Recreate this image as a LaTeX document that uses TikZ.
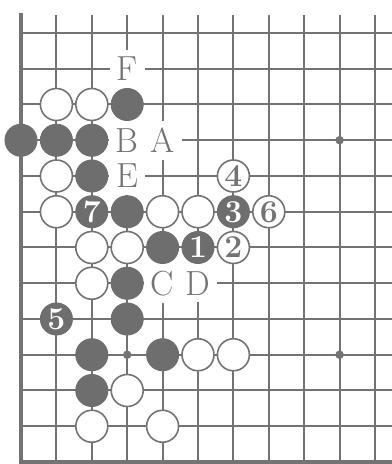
\documentclass[tikz,border=0pt]{standalone}
\usepackage{tikz}
\definecolor{inkgray}{HTML}{737373}
\definecolor{stonegray}{HTML}{6E6E6E}
\newcommand{\movefont}{\fontsize{32}{32}\bfseries\selectfont}
\newcommand{\pointfont}{\fontsize{35}{35}\selectfont}
\tikzset{
  gridline/.style = {draw=inkgray, line width=2bp},
  edgeline/.style = {draw=inkgray, line width=4bp, line cap=rect},
  starpt/.style   = {circle, fill=inkgray, minimum size=8.5bp, inner sep=0pt},
  bstone/.style   = {circle, fill=stonegray, draw=stonegray, line width=1bp,
                     minimum size=32bp, inner sep=0pt, text=white,
                     font=\movefont},
  wstone/.style   = {bstone, fill=white, draw=inkgray, line width=1.6bp,
                     text=inkgray},
  ptlabel/.style  = {fill=white, inner xsep=7bp, inner ysep=7bp,
                     text=inkgray, font=\pointfont},
}

\begin{document}
\begin{tikzpicture}[x=35.4bp, y=35.75bp]
  \useasboundingbox (-21bp,-2bp) rectangle (371bp,462bp);
  \foreach \i in {1,...,10}{\draw[gridline] (\i,0) -- (\i,12.5);}
  \foreach \j in {1,...,12}{\draw[gridline] (0,\j) -- (10.5,\j);}
  \draw[edgeline] (0,12.5) -- (0,0) -- (10.5,0);
  \foreach \i/\j in {3/3, 9/3, 9/9}{\node[starpt] (star-\i-\j) at (\i,\j) {};}
  \foreach \i/\j in {3/10, 0/9, 1/9, 2/9, 2/8, 3/7, 4/6, 3/5, 3/4,
                     2/3, 4/3, 2/2}
    {\node[bstone] (b-\i-\j) at (\i,\j) {};}
  \foreach \i/\j in {1/10, 2/10, 1/8, 1/7, 4/7, 5/7, 2/6, 3/6, 2/5,
                     5/3, 6/3, 3/2, 2/1, 4/1}
    {\node[wstone] (w-\i-\j) at (\i,\j) {};}
  \node[bstone] (mv1) at (5,6) {1};
  \node[wstone] (mv2) at (6,6) {2};
  \node[bstone] (mv3) at (6,7) {3};
  \node[wstone] (mv4) at (6,8) {4};
  \node[bstone] (mv5) at (1,4) {5};
  \node[wstone] (mv6) at (7,7) {6};
  \node[bstone] (mv7) at (2,7) {7};
  \node[ptlabel] (ptF) at (3,11) {F};
  \node[ptlabel] (ptB) at (3,9) {B};
  \node[ptlabel] (ptA) at (4,9) {A};
  \node[ptlabel] (ptE) at (3,8) {E};
  \node[ptlabel] (ptC) at (4,5) {C};
  \node[ptlabel] (ptD) at (5,5) {D};
\end{tikzpicture}
\end{document}
